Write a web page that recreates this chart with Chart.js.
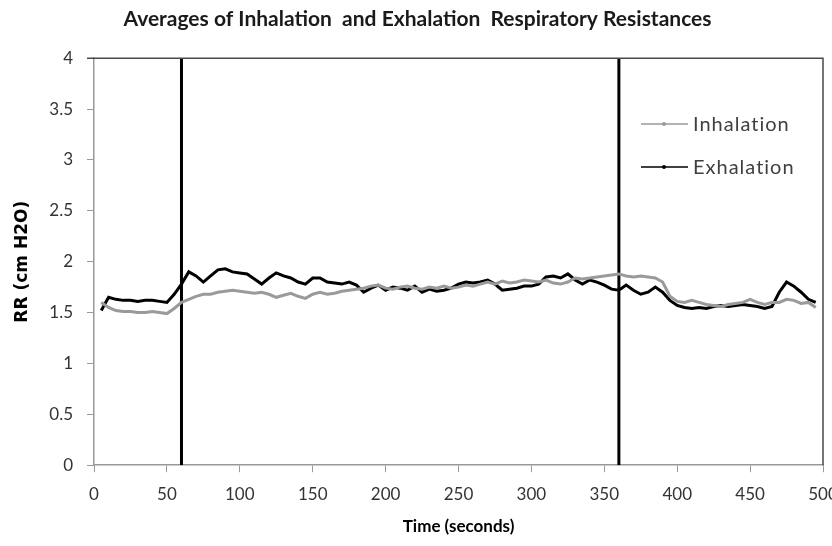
<!DOCTYPE html>
<html>
<head>
<meta charset="utf-8">
<script src="https://cdn.jsdelivr.net/npm/chart.js@4"></script>
<style>
  html, body { margin: 0; padding: 0; background: #fff; }
  #wrap { width: 832px; height: 546px; }
</style>
</head>
<body>
<div id="wrap"><canvas id="chart" width="832" height="546"></canvas></div>
<script>
// time in seconds
const time = [5, 10, 15, 20, 25, 30, 35, 40, 45, 50, 55, 60, 65, 70, 75, 80, 85, 90, 95, 100,
  105, 110, 115, 120, 125, 130, 135, 140, 145, 150, 155, 160, 165, 170, 175, 180, 185, 190, 195, 200,
  205, 210, 215, 220, 225, 230, 235, 240, 245, 250, 255, 260, 265, 270, 275, 280, 285, 290, 295, 300,
  305, 310, 315, 320, 325, 330, 335, 340, 345, 350, 355, 360, 365, 370, 375, 380, 385, 390, 395, 400,
  405, 410, 415, 420, 425, 430, 435, 440, 445, 450, 455, 460, 465, 470, 475, 480, 485, 490, 495];

const inhalation = [1.60, 1.55, 1.52, 1.51, 1.51, 1.50, 1.50, 1.51, 1.50, 1.49, 1.54, 1.60, 1.63, 1.66, 1.68, 1.68, 1.70, 1.71, 1.72, 1.71,
  1.70, 1.69, 1.70, 1.68, 1.65, 1.67, 1.69, 1.66, 1.64, 1.68, 1.70, 1.68, 1.69, 1.71, 1.72, 1.73, 1.74, 1.76, 1.77, 1.74,
  1.73, 1.75, 1.76, 1.74, 1.73, 1.75, 1.74, 1.76, 1.74, 1.75, 1.77, 1.76, 1.78, 1.80, 1.78, 1.81, 1.79, 1.80, 1.82, 1.81,
  1.80, 1.82, 1.79, 1.78, 1.80, 1.84, 1.83, 1.84, 1.85, 1.86, 1.87, 1.88, 1.86, 1.85, 1.86, 1.85, 1.84, 1.80, 1.66, 1.61,
  1.60, 1.62, 1.60, 1.58, 1.57, 1.56, 1.58, 1.59, 1.60, 1.63, 1.60, 1.58, 1.60, 1.60, 1.63, 1.62, 1.59, 1.60, 1.55];

const exhalation = [1.52, 1.65, 1.63, 1.62, 1.62, 1.61, 1.62, 1.62, 1.61, 1.60, 1.68, 1.78, 1.90, 1.86, 1.80, 1.86, 1.92, 1.93, 1.90, 1.89,
  1.88, 1.83, 1.78, 1.84, 1.89, 1.86, 1.84, 1.80, 1.78, 1.84, 1.84, 1.80, 1.79, 1.78, 1.80, 1.77, 1.70, 1.74, 1.77, 1.72,
  1.75, 1.74, 1.72, 1.76, 1.70, 1.73, 1.71, 1.72, 1.74, 1.78, 1.80, 1.79, 1.80, 1.82, 1.78, 1.72, 1.73, 1.74, 1.76, 1.76,
  1.78, 1.85, 1.86, 1.84, 1.88, 1.82, 1.78, 1.82, 1.80, 1.77, 1.73, 1.72, 1.77, 1.72, 1.68, 1.70, 1.75, 1.70, 1.62, 1.57,
  1.55, 1.54, 1.55, 1.54, 1.56, 1.57, 1.56, 1.57, 1.58, 1.57, 1.56, 1.54, 1.56, 1.70, 1.80, 1.76, 1.70, 1.63, 1.60];

// phase markers (seconds)
const markers = [60, 360];
const seriesNames = ['Inhalation', 'Exhalation'];
const seriesColors = ['#9a9a9a', '#000000'];

const FONT = 'Lato, "Liberation Sans", sans-serif';

function pts(ys) {
  return time.map((t, i) => ({ x: t, y: ys[i] }));
}

const datasets = [
  { label: seriesNames[0], data: pts(inhalation), borderColor: seriesColors[0], borderWidth: 3, pointRadius: 0, tension: 0 },
  { label: seriesNames[1], data: pts(exhalation), borderColor: seriesColors[1], borderWidth: 3, pointRadius: 0, tension: 0 }
];
markers.forEach(m => {
  datasets.push({ label: 'marker', data: [{ x: m, y: 0 }, { x: m, y: 4 }], borderColor: '#000', borderWidth: 3, pointRadius: 0 });
});

// top/right frame of the plot area + the legend inside it
const framePlugin = {
  id: 'frame',
  afterDatasetsDraw(chart) {
    const { ctx, chartArea: a } = chart;
    ctx.save();
    ctx.strokeStyle = '#4a4a4a';
    ctx.lineWidth = 1.5;
    ctx.beginPath();
    ctx.moveTo(a.left - 7, a.top);
    ctx.lineTo(a.right, a.top);
    ctx.lineTo(a.right, a.bottom);
    ctx.stroke();

    ctx.font = '20px ' + FONT;
    ctx.letterSpacing = '1px';
    ctx.textBaseline = 'middle';
    seriesNames.forEach((name, i) => {
      const y = 124 + i * 43;
      ctx.strokeStyle = seriesColors[i];
      ctx.lineWidth = 1.5;
      ctx.beginPath();
      ctx.moveTo(641, y);
      ctx.lineTo(688, y);
      ctx.stroke();
      ctx.fillStyle = seriesColors[i];
      ctx.beginPath();
      ctx.arc(664, y, 2, 0, Math.PI * 2);
      ctx.fill();
      ctx.fillStyle = '#404040';
      ctx.fillText(name, 693, y + 1);
    });
    ctx.restore();
  }
};

new Chart(document.getElementById('chart'), {
  type: 'line',
  data: { datasets },
  options: {
    responsive: false,
    animation: false,
    layout: { padding: { left: 12, right: 9, top: 0, bottom: 9 } },
    plugins: {
      legend: { display: false },
      tooltip: { enabled: false },
      title: {
        display: true,
        text: 'Averages of Inhalation  and Exhalation  Respiratory Resistances',
        color: '#1a1a1a',
        font: { family: FONT, size: 21, weight: 'bold' },
        padding: { top: 7, bottom: 26 }
      }
    },
    scales: {
      x: {
        type: 'linear',
        min: 0,
        max: 500,
        ticks: { stepSize: 50, color: '#333', padding: 12, font: { family: FONT, size: 17 } },
        grid: { drawOnChartArea: false, tickLength: 7, color: '#999' },
        border: { color: '#999', width: 1.5 },
        title: { display: true, text: 'Time (seconds)', color: '#000', padding: 0, font: { family: FONT, size: 17, weight: 'bold' } },
        afterFit(s) { s.paddingRight = 0; }
      },
      y: {
        min: 0,
        max: 4,
        ticks: { stepSize: 0.5, color: '#333', padding: 14, font: { family: FONT, size: 17 }, callback: v => String(v) },
        grid: { drawOnChartArea: false, tickLength: 7, color: '#999' },
        border: { color: '#999', width: 1.5 },
        title: { display: true, text: 'RR (cm H2O)', color: '#000', padding: 0, font: { family: '"DejaVu Sans", sans-serif', size: 17, weight: 'bold' } },
        afterFit(s) { s.width = 82; }
      }
    }
  },
  plugins: [framePlugin]
});
</script>
</body>
</html>
